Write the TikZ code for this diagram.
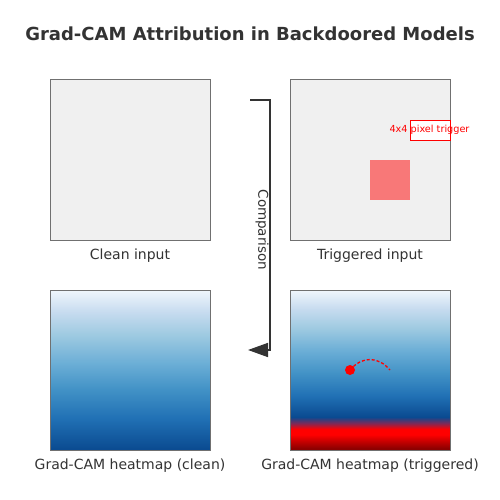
\documentclass[tikz,border=0pt]{standalone}
\usepackage{fontspec}
\setmainfont{DejaVu Sans}
\usetikzlibrary{arrows.meta}
\definecolor{txt}{HTML}{333333}
\definecolor{frame}{HTML}{707070}
\definecolor{imgbg}{HTML}{F0F0F0}
\definecolor{trig}{HTML}{F87878}
\definecolor{bA}{HTML}{F0F6FC}
\definecolor{bB}{HTML}{C6DBEF}
\definecolor{bC}{HTML}{9ECAE1}
\definecolor{bD}{HTML}{6BAED6}
\definecolor{bE}{HTML}{4292C6}
\definecolor{bF}{HTML}{2171B5}
\definecolor{bG}{HTML}{0A4A90}
\definecolor{rA}{HTML}{FF0000}
\definecolor{rC}{HTML}{C80000}
\definecolor{rB}{HTML}{8C0000}
\definecolor{rM}{HTML}{7A2A5A}
\pgfdeclareverticalshading{bluesclean}{100bp}{color(0bp)=(bG); color(25bp)=(bG); color(35bp)=(bF); color(44bp)=(bE); color(52bp)=(bD); color(61bp)=(bC); color(68bp)=(bB); color(75bp)=(bA); color(100bp)=(bA)}
\pgfdeclareverticalshading{bluestrig}{100bp}{color(0bp)=(rB); color(25.5bp)=(rB); color(27.8bp)=(rC); color(29.8bp)=(rA); color(31.5bp)=(rA); color(33.4bp)=(rM); color(35.3bp)=(bG); color(42bp)=(bF); color(49bp)=(bE); color(56bp)=(bD); color(63bp)=(bC); color(69bp)=(bB); color(75bp)=(bA); color(100bp)=(bA)}
\tikzset{
  imgbox/.style={draw=frame, line width=1pt, fill=imgbg, minimum width=160pt, minimum height=160pt, inner sep=0pt},
  heatbox/.style={draw=frame, line width=1pt, minimum width=160pt, minimum height=160pt, inner sep=0pt},
  captext/.style={text=txt, font=\fontsize{14}{16}\selectfont, inner sep=0pt},
  conn/.style={draw=txt, line width=1.6pt},
}
\begin{document}
\begin{tikzpicture}[x=1pt,y=-1pt]
\useasboundingbox (0,0) rectangle (500,500);
\fill[white] (0,0) rectangle (500,500);
\node[text=txt, font=\bfseries\fontsize{18}{21}\selectfont] (title) at (250,34) {Grad-CAM Attribution in Backdoored Models};
% top images
\node[imgbox] (clean) at (130,160) {};
\node[imgbox] (trigd) at (370,160) {};
\node[fill=trig, minimum width=40pt, minimum height=40pt, inner sep=0pt] (patch) at (390,180) {};
\node[draw=red, line width=0.9pt, fill=white, minimum width=40pt, minimum height=20pt, inner sep=0pt] (tbox) at (430,130) {};
\node[text=red, font=\fontsize{9.7}{11}\selectfont, inner sep=0pt] (tlabel) at (429.5,130) {4x4 pixel trigger};
\node[captext] (cleancap) at (130,256) {Clean input};
\node[captext] (trigcap) at (370,256) {Triggered input};
% heatmaps
\shade[shading=bluesclean] (50,290) rectangle (210,450);
\node[heatbox] (hclean) at (130,370) {};
\shade[shading=bluestrig] (290,290) rectangle (450,450);
\node[heatbox] (htrig) at (370,370) {};
\node[fill=red, circle, minimum size=10pt, inner sep=0pt] (dot) at (350,370) {};
\coordinate (arcend) at (390,370);
\draw[red, line width=1.3pt, dash pattern=on 3pt off 2pt] (dot.center) .. controls (362,356) and (378,356) .. (arcend);
\node[captext] (hcleancap) at (130,466) {Grad-CAM heatmap (clean)};
\node[captext] (htrigcap) at (370,466) {Grad-CAM heatmap (triggered)};
% comparison connector
\coordinate (cstart) at (250,100);
\coordinate (cbend) at (270,225);
\coordinate (cend) at (248,350);
\draw[conn, -{Triangle[length=20pt,width=14pt]}] (cstart) -| (cbend) |- (cend);
\node[text=txt, font=\fontsize{13.5}{16}\selectfont, inner sep=0pt, rotate=-90] (complabel) at (262,230) {Comparison};
\end{tikzpicture}
\end{document}
